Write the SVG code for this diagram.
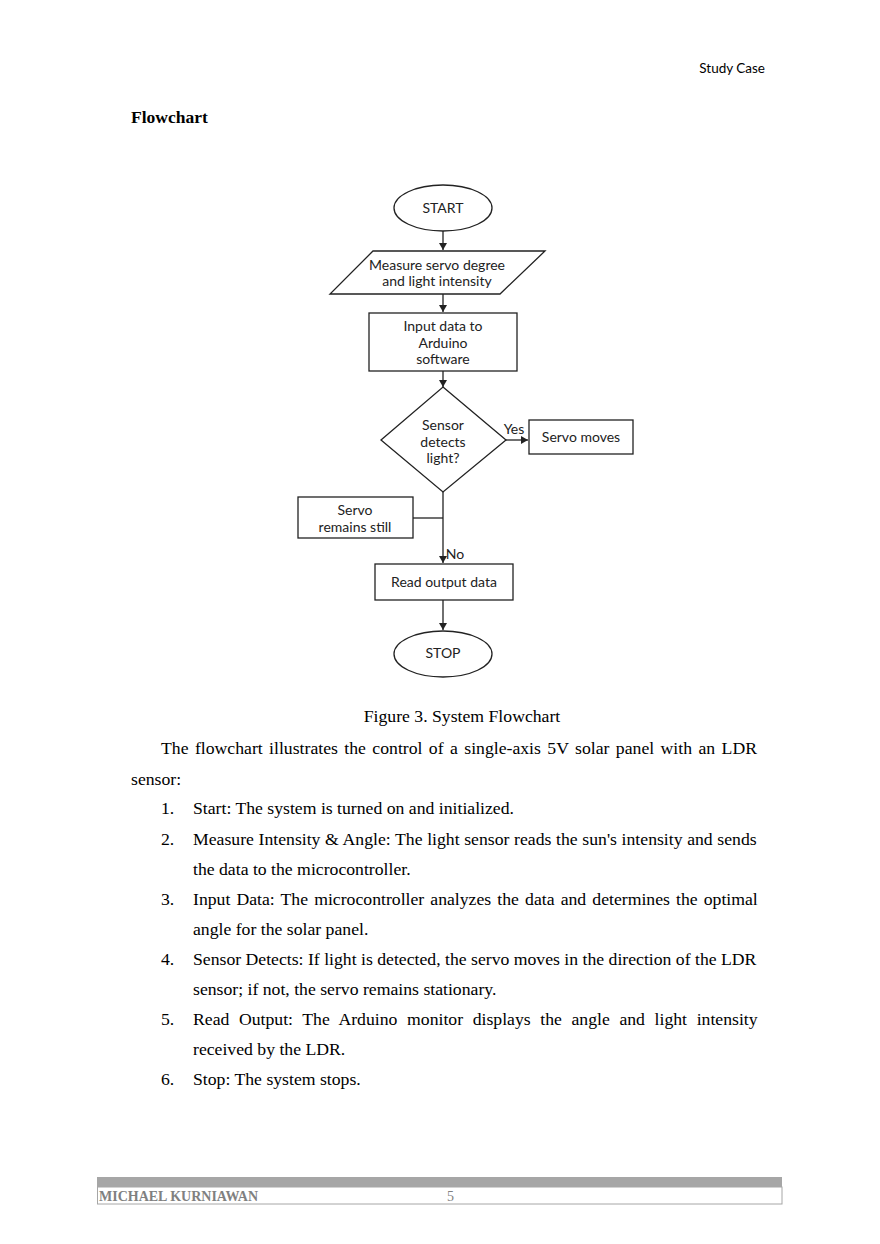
<svg xmlns="http://www.w3.org/2000/svg" width="880" height="1244" viewBox="0 0 880 1244">
<style>
.fc{font-family:Lato,"Open Sans","Liberation Sans",sans-serif;font-size:14px;fill:#222;text-anchor:middle}
.sh{fill:#fff;stroke:#222;stroke-width:1.3}
.ln{fill:none;stroke:#222;stroke-width:1.3}
.tx{font-family:"Liberation Serif","Times New Roman",serif;font-size:17.7px;fill:#000}
</style>
<defs>
<marker id="ah" markerWidth="8" markerHeight="8" refX="7" refY="4" orient="auto" markerUnits="userSpaceOnUse">
<path d="M0,0 L7,4 L0,8 z" fill="#222"/>
</marker>
</defs>
<rect width="880" height="1244" fill="#fff"/>
<text x="765" y="73" font-family="Lato,'Liberation Sans',sans-serif" font-size="13.5" text-anchor="end" fill="#000">Study Case</text>
<text x="131" y="123" font-family="'Liberation Serif',serif" font-size="17.5" font-weight="bold" fill="#000">Flowchart</text>

<g id="connectors">
<line class="ln" x1="443" y1="231" x2="443" y2="250" marker-end="url(#ah)"/>
<line class="ln" x1="443" y1="294" x2="443" y2="312" marker-end="url(#ah)"/>
<line class="ln" x1="443" y1="371" x2="443" y2="387" marker-end="url(#ah)"/>
<line class="ln" x1="506" y1="440" x2="528" y2="440" marker-end="url(#ah)"/>
<line class="ln" x1="443" y1="492" x2="443" y2="563" marker-end="url(#ah)"/>
<line class="ln" x1="413" y1="518" x2="443" y2="518"/>
<line class="ln" x1="443" y1="600" x2="443" y2="630" marker-end="url(#ah)"/>
<text class="fc" x="514" y="434">Yes</text>
<text class="fc" x="455" y="559">No</text>
</g>

<g id="start">
<ellipse class="sh" cx="443" cy="208" rx="49" ry="23"/>
<text class="fc" x="443" y="213">START</text>
</g>
<g id="measure">
<polygon class="sh" points="373,251 545,251 500,294 330,294"/>
<text class="fc" x="437" y="270">Measure servo degree</text>
<text class="fc" x="437" y="286">and light intensity</text>
</g>
<g id="input">
<rect class="sh" x="369" y="313" width="148" height="58"/>
<text class="fc" x="443" y="331">Input data to</text>
<text class="fc" x="443" y="348">Arduino</text>
<text class="fc" x="443" y="364">software</text>
</g>
<g id="decision">
<polygon class="sh" points="443,387 506,440 443,492 381,440"/>
<text class="fc" x="443" y="430">Sensor</text>
<text class="fc" x="443" y="447">detects</text>
<text class="fc" x="443" y="463">light?</text>
</g>
<g id="servo-moves">
<rect class="sh" x="529" y="420" width="104" height="34"/>
<text class="fc" x="581" y="442">Servo moves</text>
</g>
<g id="servo-still">
<rect class="sh" x="298" y="497" width="115" height="41"/>
<text class="fc" x="355" y="515">Servo</text>
<text class="fc" x="355" y="532">remains still</text>
</g>
<g id="read-output">
<rect class="sh" x="375" y="564" width="138" height="36"/>
<text class="fc" x="444" y="587">Read output data</text>
</g>
<g id="stop">
<ellipse class="sh" cx="443" cy="654" rx="49" ry="23"/>
<text class="fc" x="443" y="658">STOP</text>
</g>

<text class="tx" x="462" y="722" text-anchor="middle">Figure 3. System Flowchart</text>
<text class="tx" x="161" y="754" word-spacing="2">The flowchart illustrates the control of a single-axis 5V solar panel with an LDR</text>
<text class="tx" x="131" y="785">sensor:</text>
<text class="tx" x="161" y="814">1.</text>
<text class="tx" x="193" y="814">Start: The system is turned on and initialized.</text>
<text class="tx" x="161" y="844.5">2.</text>
<text class="tx" x="193" y="844.5" word-spacing="0.23">Measure Intensity &amp; Angle: The light sensor reads the sun's intensity and sends</text>
<text class="tx" x="193" y="874.5">the data to the microcontroller.</text>
<text class="tx" x="161" y="905">3.</text>
<text class="tx" x="193" y="905" word-spacing="1.7">Input Data: The microcontroller analyzes the data and determines the optimal</text>
<text class="tx" x="193" y="935">angle for the solar panel.</text>
<text class="tx" x="161" y="965">4.</text>
<text class="tx" x="193" y="965">Sensor Detects: If light is detected, the servo moves in the direction of the LDR</text>
<text class="tx" x="193" y="995">sensor; if not, the servo remains stationary.</text>
<text class="tx" x="161" y="1025">5.</text>
<text class="tx" x="193" y="1025" word-spacing="5.2">Read Output: The Arduino monitor displays the angle and light intensity</text>
<text class="tx" x="193" y="1055">received by the LDR.</text>
<text class="tx" x="161" y="1085">6.</text>
<text class="tx" x="193" y="1085">Stop: The system stops.</text>

<g id="footer">
<rect x="97" y="1177" width="685" height="10" fill="#a6a6a6"/>
<rect x="97.5" y="1187" width="684.5" height="17" fill="#fff" stroke="#a6a6a6" stroke-width="1"/>
<text x="99" y="1201" font-family="'Liberation Serif',serif" font-size="14" font-weight="bold" fill="#808080">MICHAEL KURNIAWAN</text>
<text x="447" y="1201" font-family="'Liberation Serif',serif" font-size="14" fill="#808080">5</text>
</g>
</svg>
